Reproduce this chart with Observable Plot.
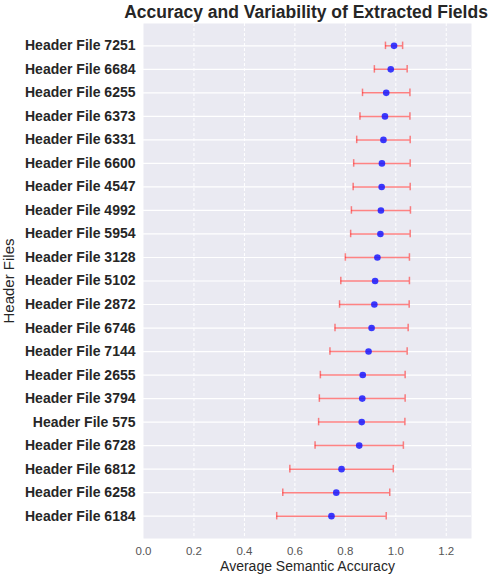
<!DOCTYPE html>
<html>
<head>
<meta charset="utf-8">
<script src="https://cdn.jsdelivr.net/npm/d3@7"></script>
<script src="https://cdn.jsdelivr.net/npm/@observablehq/plot@0.6"></script>
<style>
  html, body { margin: 0; padding: 0; background: #fff; }
  #wrap { position: relative; width: 489px; height: 575px; font-family: "Liberation Sans", Arial, sans-serif; }
  #title { position: absolute; left: 306px; top: 0; transform: translateX(-50%); height: 22px; line-height: 25px;
           font-size: 17.5px; font-weight: bold; color: #262626; white-space: nowrap; }
  #chart { position: absolute; left: 0; top: 22px; }
</style>
</head>
<body>
<div id="wrap">
  <div id="title">Accuracy and Variability of Extracted Fields</div>
  <div id="chart"></div>
</div>
<script>
const labels = [
  "Header File 7251", "Header File 6684", "Header File 6255", "Header File 6373",
  "Header File 6331", "Header File 6600", "Header File 4547", "Header File 4992",
  "Header File 5954", "Header File 3128", "Header File 5102", "Header File 2872",
  "Header File 6746", "Header File 7144", "Header File 2655", "Header File 3794",
  "Header File 575", "Header File 6728", "Header File 6812", "Header File 6258",
  "Header File 6184"
];
const means = [0.993, 0.980, 0.962, 0.957, 0.951, 0.945, 0.944, 0.941, 0.939, 0.927, 0.918,
  0.915, 0.904, 0.892, 0.869, 0.867, 0.865, 0.855, 0.785, 0.764, 0.745];
const stds = [0.034, 0.065, 0.094, 0.099, 0.106, 0.112, 0.113, 0.117, 0.118, 0.127, 0.136,
  0.138, 0.145, 0.153, 0.168, 0.170, 0.171, 0.175, 0.205, 0.212, 0.217];
const xTicks = [0.0, 0.2, 0.4, 0.6, 0.8, 1.0, 1.2];

const data = labels.map((name, i) => ({
  name, mean: means[i], lo: means[i] - stds[i], hi: means[i] + stds[i]
}));

const chart = Plot.plot({
  width: 489,
  height: 553,
  marginLeft: 143,
  marginRight: 18,
  marginTop: 1,
  marginBottom: 37,
  style: { fontFamily: '"Liberation Sans", Arial, sans-serif', background: "#fff" },
  x: { domain: [0, 1.3], ticks: xTicks, tickFormat: d3.format(".1f") },
  y: { domain: labels, type: "band", paddingInner: 0, paddingOuter: 0.45, round: false },
  marks: [
    Plot.frame({ fill: "#eaeaf2", stroke: null }),
    Plot.ruleX(xTicks.slice(1), { stroke: "#fff", strokeWidth: 1, strokeDasharray: "3,2" }),
    Plot.ruleY(labels, { y: d => d, stroke: "#fff", strokeWidth: 1.2 }),
    Plot.ruleY(data, { y: "name", x1: "lo", x2: "hi", stroke: "#ff3030", strokeOpacity: 0.6, strokeWidth: 1.5 }),
    Plot.tickX(data, { y: "name", x: "lo", stroke: "#ff3030", strokeOpacity: 0.6, strokeWidth: 1.5, insetTop: 8, insetBottom: 8 }),
    Plot.tickX(data, { y: "name", x: "hi", stroke: "#ff3030", strokeOpacity: 0.6, strokeWidth: 1.5, insetTop: 8, insetBottom: 8 }),
    Plot.dot(data, { y: "name", x: "mean", r: 3.3, fill: "#1a1aff", fillOpacity: 0.85, stroke: null }),
    Plot.axisX({ ticks: xTicks, tickFormat: d3.format(".1f"), tickSize: 0, tickPadding: 8, fontSize: 11.5, color: "#555", label: null }),
    Plot.text(["Average Semantic Accuracy"], { frameAnchor: "bottom", dy: 32, fontSize: 14, fill: "#262626", text: d => d }),
    Plot.axisY({ tickSize: 0, tickPadding: 8, fontSize: 14, fontWeight: "bold", color: "#262626", label: null }),
    Plot.text(["Header Files"], { frameAnchor: "left", dx: -134, rotate: -90, textAnchor: "middle", fontSize: 15, fill: "#262626", text: d => d })
  ]
});
document.getElementById("chart").appendChild(chart);
</script>
</body>
</html>
